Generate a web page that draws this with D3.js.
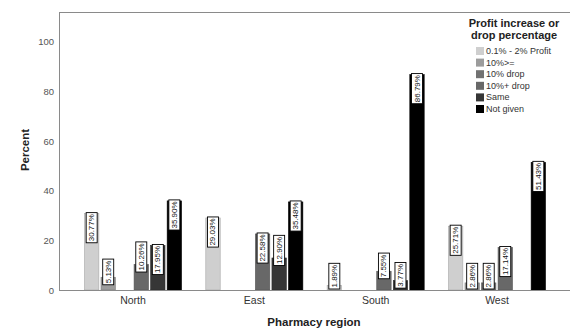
<!DOCTYPE html>
<html>
<head>
<meta charset="utf-8">
<script src="https://cdn.jsdelivr.net/npm/d3@7"></script>
<style>
  html, body { margin: 0; padding: 0; background: #fff; }
  svg { display: block; font-family: "Liberation Sans", Arial, sans-serif; }
</style>
</head>
<body>
<svg id="chart" width="570" height="331"></svg>
<script>
const regions = ["North", "East", "South", "West"];
const seriesNames = ["0.1% - 2% Profit", "10%>=", "10% drop", "10%+ drop", "Same", "Not given"];
const seriesColors = ["#cfcfcf", "#9c9c9c", "#727272", "#686868", "#363636", "#000000"];
// values per series, in region order (null = no bar)
const profitSmall = [30.77, 29.03, 1.89, 25.71];
const tenOrMore   = [5.13, null, null, 2.86];
const tenDrop     = [null, null, null, 2.86];
const tenPlusDrop = [10.26, 22.58, 7.55, 17.14];
const same        = [17.95, 12.90, 3.77, null];
const notGiven    = [35.90, 35.48, 86.79, 51.43];
const seriesValues = [profitSmall, tenOrMore, tenDrop, tenPlusDrop, same, notGiven];
const yTicks = [0, 20, 40, 60, 80, 100];

const svg = d3.select("#chart");
const mLeft = 59, mRight = 571, mTop = 12, mBottom = 290;

const x0 = d3.scaleBand().domain(regions).range([mLeft, mRight]).paddingInner(0.2).paddingOuter(0.21);
const x1 = d3.scaleBand().domain(seriesNames).range([0, x0.bandwidth()]).paddingInner(0.13).paddingOuter(0);
const y = d3.scaleLinear().domain([0, 112]).range([mBottom, mTop]);
const color = d3.scaleOrdinal().domain(seriesNames).range(seriesColors);

// frame lines
svg.append("line").attr("x1", mLeft).attr("x2", 570).attr("y1", mTop + 0.5).attr("y2", mTop + 0.5).attr("stroke", "#8a8a8a");
svg.append("line").attr("x1", mLeft + 0.5).attr("x2", mLeft + 0.5).attr("y1", mTop).attr("y2", mBottom).attr("stroke", "#8a8a8a");

// y axis labels
const yAxis = d3.axisLeft(y).tickValues(yTicks).tickSize(0).tickPadding(5);
const yg = svg.append("g").attr("transform", `translate(${mLeft},0)`).call(yAxis);
yg.select(".domain").remove();
yg.selectAll("text").attr("font-size", 9.5).attr("fill", "#555").attr("font-family", "Liberation Sans, Arial, sans-serif");

// bars
const data = [];
regions.forEach((r, ri) => {
  seriesNames.forEach((s, si) => {
    const v = seriesValues[si][ri];
    if (v !== null && v !== undefined) data.push({ region: r, series: s, value: v });
  });
});

const bars = svg.append("g");
bars.selectAll("rect").data(data).join("rect")
  .attr("x", d => x0(d.region) + x1(d.series))
  .attr("y", d => y(d.value))
  .attr("width", x1.bandwidth())
  .attr("height", d => y(0) - y(d.value))
  .attr("fill", d => color(d.series))
  .attr("stroke", d => d3.color(color(d.series)).darker(0.6))
  .attr("stroke-width", 0.6);

// baseline
svg.append("line").attr("x1", mLeft).attr("x2", 570).attr("y1", mBottom + 0.5).attr("y2", mBottom + 0.5).attr("stroke", "#8a8a8a");

// x axis labels
const xAxis = d3.axisBottom(x0).tickSize(0).tickPadding(7);
const xg = svg.append("g").attr("transform", `translate(0,${mBottom})`).call(xAxis);
xg.select(".domain").remove();
xg.selectAll("text").attr("font-size", 10.5).attr("fill", "#333").attr("font-family", "Liberation Sans, Arial, sans-serif");

// value labels
const fmt = d => d.toFixed(2) + "%";
const labelG = svg.append("g");
data.forEach(d => {
  const cx = x0(d.region) + x1(d.series) + x1.bandwidth() / 2;
  const txt = fmt(d.value);
  const t = labelG.append("text").text(txt)
    .attr("font-size", 8).attr("fill", "#111")
    .attr("text-anchor", "middle").attr("dominant-baseline", "central");
  const tw = t.node().getComputedTextLength();
  const boxH = tw + 3, boxW = 11;
  const barTop = y(d.value);
  let boxTop;
  if (boxH + 2 <= y(0) - barTop) {
    boxTop = barTop - 1;
  } else {
    const boxBottom = Math.min(barTop + 7.5, y(0) - 1);
    boxTop = boxBottom - boxH;
  }
  const cy = boxTop + boxH / 2;
  labelG.insert("rect", "text")
    .attr("x", cx - boxW / 2).attr("y", boxTop)
    .attr("width", boxW).attr("height", boxH)
    .attr("fill", "#fff").attr("stroke", "#000").attr("stroke-width", 0.9);
  t.attr("transform", `translate(${cx},${cy}) rotate(-90)`);
  t.raise();
});

// axis titles
svg.append("text").text("Percent")
  .attr("transform", "translate(29,150) rotate(-90)")
  .attr("text-anchor", "middle").attr("font-size", 11.5).attr("font-weight", "bold").attr("fill", "#222");
svg.append("text").text("Pharmacy region")
  .attr("x", 314).attr("y", 326)
  .attr("text-anchor", "middle").attr("font-size", 11.5).attr("font-weight", "bold").attr("fill", "#222");

// legend
const lg = svg.append("g");
lg.append("text").text("Profit increase or").attr("x", 514).attr("y", 27)
  .attr("text-anchor", "middle").attr("font-size", 11).attr("font-weight", "bold").attr("fill", "#222");
lg.append("text").text("drop percentage").attr("x", 514).attr("y", 38.5)
  .attr("text-anchor", "middle").attr("font-size", 11).attr("font-weight", "bold").attr("fill", "#222");
const items = lg.selectAll("g.item").data(seriesNames).join("g")
  .attr("class", "item")
  .attr("transform", (d, i) => `translate(476,${51 + i * 11.6})`);
items.append("rect").attr("x", 0).attr("y", -4).attr("width", 8).attr("height", 8)
  .attr("fill", d => color(d));
items.append("text").text(d => d).attr("x", 10).attr("y", 0)
  .attr("dominant-baseline", "central").attr("font-size", 9).attr("fill", "#333");
</script>
</body>
</html>
